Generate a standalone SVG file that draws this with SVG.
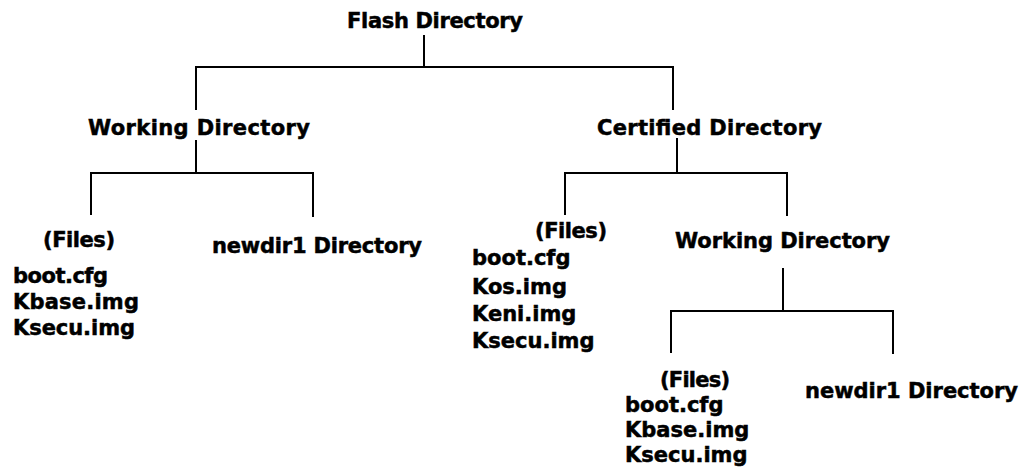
<svg xmlns="http://www.w3.org/2000/svg" width="1021" height="467" viewBox="0 0 1021 467">
<style>
.t{font-family:"DejaVu Sans","Liberation Sans",sans-serif;font-weight:bold;font-size:21px;fill:#000;stroke:#000;stroke-width:0.5}
.c{stroke:#000;stroke-width:2;fill:none}
</style>
<rect width="1021" height="467" fill="#fff"/>
<g id="connectors" class="c">
<path d="M424,35V67M195,67H674M196,67V110M673,67V110"/>
<path d="M196,140V173M90,173H314M91,173V215M313,173V217"/>
<path d="M677,138V173M564,173H788M565,173V215M787,173V216"/>
<path d="M783,268V311M670,311H894M671,311V353M893,311V354"/>
</g>
<g id="flash"><text class="t" x="347" y="28" textLength="176">Flash Directory</text></g>
<g id="working1"><text class="t" x="88" y="135" textLength="222">Working Directory</text></g>
<g id="certified"><text class="t" x="597" y="135" textLength="225">Certified Directory</text></g>
<g id="files1">
<text class="t" x="43" y="247" textLength="72">(Files)</text>
<text class="t" x="13" y="283" textLength="95">boot.cfg</text>
<text class="t" x="13" y="309" textLength="126">Kbase.img</text>
<text class="t" x="13" y="335" textLength="122">Ksecu.img</text>
</g>
<g id="newdir1a"><text class="t" x="212" y="253" textLength="210">newdir1 Directory</text></g>
<g id="files2">
<text class="t" x="535" y="238" textLength="72">(Files)</text>
<text class="t" x="472" y="265">boot.cfg</text>
<text class="t" x="472" y="294">Kos.img</text>
<text class="t" x="472" y="321">Keni.img</text>
<text class="t" x="472" y="348">Ksecu.img</text>
</g>
<g id="working2"><text class="t" x="675" y="248" textLength="215">Working Directory</text></g>
<g id="files3">
<text class="t" x="660" y="387" textLength="70">(Files)</text>
<text class="t" x="625" y="412">boot.cfg</text>
<text class="t" x="625" y="437">Kbase.img</text>
<text class="t" x="625" y="462">Ksecu.img</text>
</g>
<g id="newdir1b"><text class="t" x="805" y="398" textLength="213">newdir1 Directory</text></g>
</svg>
